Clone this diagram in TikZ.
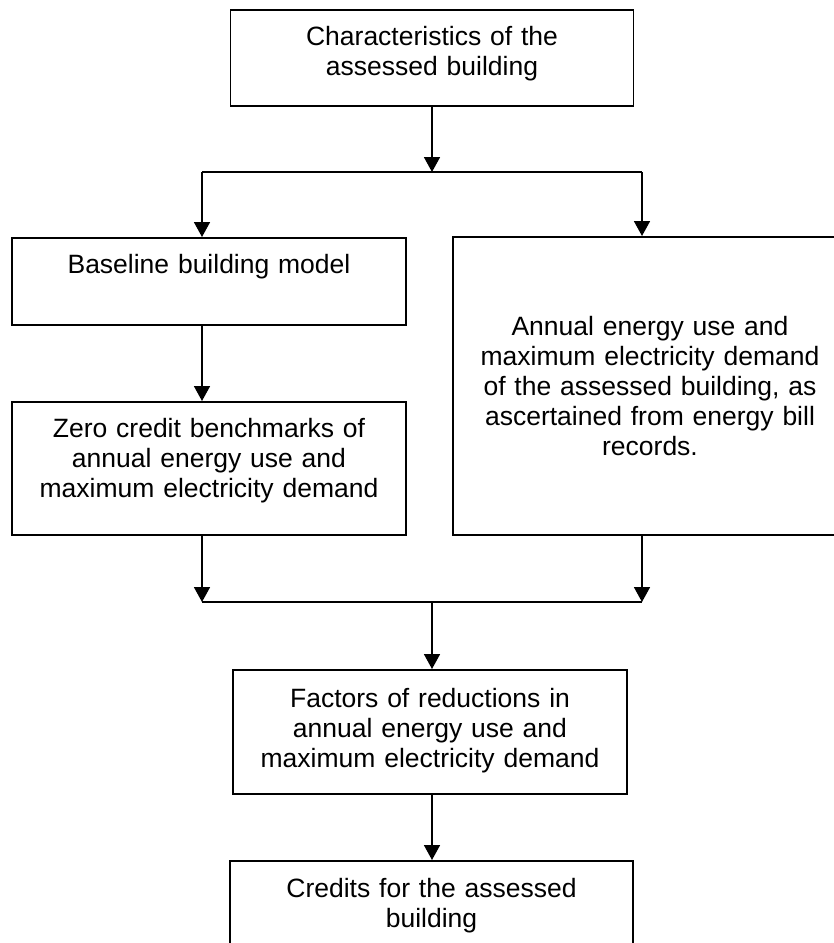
\documentclass[tikz,border=0pt]{standalone}
\usepackage{fontspec}
\setmainfont{Liberation Sans}
\usepackage{tikz}
\usetikzlibrary{positioning,arrows.meta,calc}
\tikzset{
  >={Triangle[width=16pt,length=15pt]},
  every node/.style={font=\fontsize{26.5}{30}\selectfont},
  % --- nodes
  box/.style  = {draw=black, line width=1.8pt, align=center, anchor=north,
                 inner xsep=0pt, inner ysep=0pt, text height=36pt},
  % --- edges
  ln/.style   = {draw=black, line width=1.8pt},
  e/.style    = {ln, ->},
}
\begin{document}
\begin{tikzpicture}[x=1pt,y=-1pt,
  wide/.style={box,text width=403pt},
  narrow/.style={box,text width=394pt},
]
  \clip (0,0) rectangle (834,943);
  \node[wide,text depth=60pt] (a) at (432,9) {Characteristics of the\\assessed building};
  \node[narrow,text depth=51pt] (b) at (209,237) {Baseline building model};
  \node[narrow,text depth=97pt] (c) at (209,401) {Zero credit benchmarks of\\annual energy use and\\maximum electricity demand};
  \node[narrow,text height=98.5pt,text depth=199.5pt] (d) at (650,236) {Annual energy use and\\maximum electricity demand\\of the assessed building, as\\ascertained from energy bill\\records.};
  \node[narrow,text height=37.5pt,text depth=86.5pt] (e) at (430,669) {Factors of reductions in\\annual energy use and\\maximum electricity demand};
  \node[wide,text height=36.5pt,text depth=80pt] (f) at (431.5,860) {Credits for the assessed\\building};
  % split and join points
  \coordinate (s)  at (432,172);
  \coordinate (sl) at (202,172);
  \coordinate (sr) at (642,172);
  \coordinate (j)  at (432,602);
  \coordinate (jl) at (202,602);
  \coordinate (jr) at (642,602);
  \draw[e] (a.south) -- (s);
  \draw[ln] (sl) -- (sr);
  \draw[e] (sl) -- (sl |- b.north); \draw[e] (sr) -- (sr |- d.north);
  \draw[e] (sl |- b.south) -- (sl |- c.north);
  \draw[e] (sl |- c.south) -- (jl); \draw[e] (sr |- d.south) -- (jr);
  \draw[ln] (jl) -- (jr);
  \draw[e] (j) -- (j |- e.north);
  \draw[e] (j |- e.south) -- (j |- f.north);
\end{tikzpicture}
\end{document}
